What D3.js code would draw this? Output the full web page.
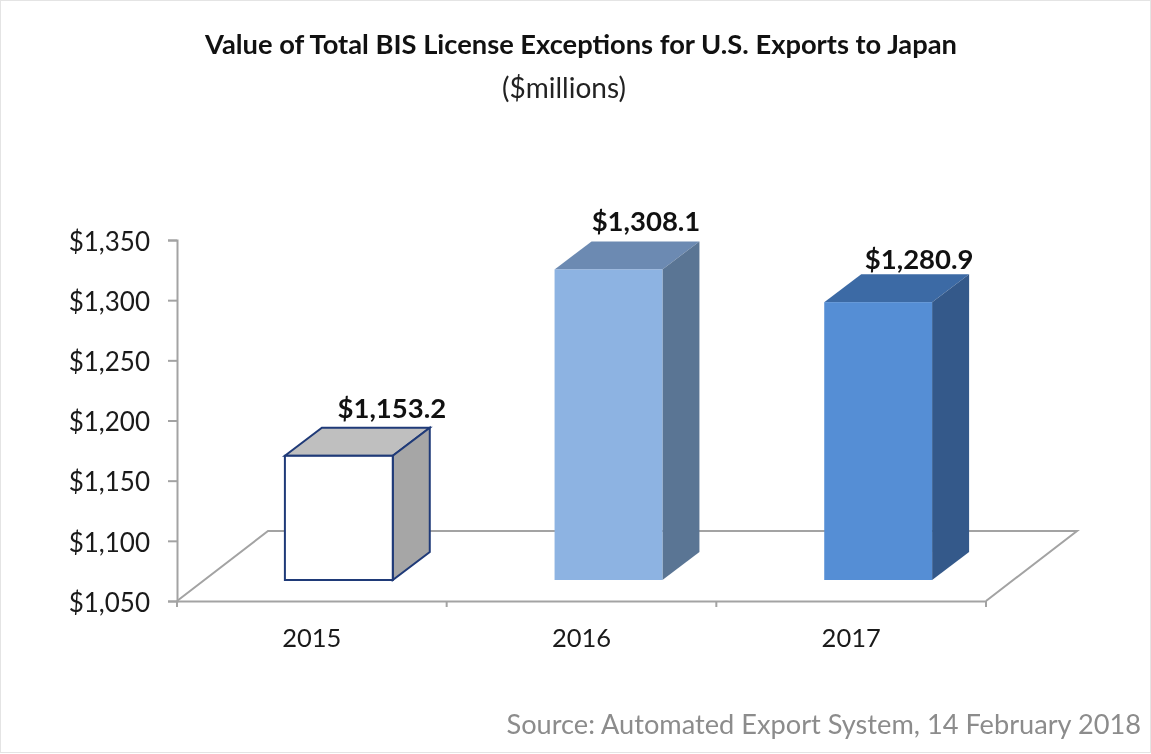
<!DOCTYPE html>
<html>
<head>
<meta charset="utf-8">
<script src="https://cdn.jsdelivr.net/npm/d3@7"></script>
<style>
  html, body { margin: 0; padding: 0; background: #fff; }
  svg { display: block; font-family: "Lato", "Open Sans", sans-serif; filter: blur(0.4px); }
  .axis path, .axis line { stroke: #a3a3a3; stroke-width: 2px; }
  .axis text { fill: #1a1a1a; font-family: "Lato", sans-serif; }
  .axis--y text { font-size: 26px; }
  .axis--x text { font-size: 25.5px; }
</style>
</head>
<body>
<svg id="chart" width="1151" height="754"></svg>
<script>
const years = ['2015', '2016', '2017'];
const values = [1153.2, 1308.1, 1280.9];
const valueLabels = ['$1,153.2', '$1,308.1', '$1,280.9'];
const yTicks = [1050, 1100, 1150, 1200, 1250, 1300, 1350];

const frontColors = ['#ffffff', '#8db3e2', '#558ed5'];
const topColors = ['#bfbfbf', '#6c8ab2', '#3c6aa5'];
const sideColors = ['#a6a6a6', '#5a7594', '#34598a'];
const strokeColors = ['#1f3a78', 'none', 'none'];
const labelNudgeX = [53, 37.5, 41];
const labelNudgeY = [0, 0, 5];

const WIDTH = 1151;
const HEIGHT = 754;
const MARGIN = { top: 240, bottom: 153, left: 177, right: 165 };
const FLOOR_DEPTH = { x: 91, y: 70 };
const BAR_DEPTH = { x: 37, y: 28 };
const BAR_LIFT = { x: 27, y: 21 };

const $svg = d3.select('#chart');

const scaleX = d3.scaleBand()
  .domain(years)
  .range([MARGIN.left, WIDTH - MARGIN.right]);

const scaleY = d3.scaleLinear()
  .domain([1050, 1350])
  .range([HEIGHT - MARGIN.bottom, MARGIN.top]);

// picture frame
$svg.append('rect')
  .attr('x', 0.5)
  .attr('y', 0.5)
  .attr('width', WIDTH - 1)
  .attr('height', HEIGHT - 2)
  .attr('fill', '#fff')
  .attr('stroke', '#e4e4e4');

// title
$svg.append('text')
  .text('Value of Total BIS License Exceptions for U.S. Exports to Japan')
  .attr('x', 581)
  .attr('y', 54)
  .attr('text-anchor', 'middle')
  .style('font-weight', 700)
  .style('font-size', '27.3px')
  .style('fill', '#111');

$svg.append('text')
  .text('($millions)')
  .attr('x', 564)
  .attr('y', 98)
  .attr('text-anchor', 'middle')
  .style('font-size', '28px')
  .style('fill', '#222');

// floor of the 3d plot, only back and side edges
const y0 = scaleY(1050);
const xLeft = scaleX.range()[0];
const xRight = scaleX.range()[1];

$svg.append('path')
  .attr('d', d3.line()([
    [xLeft, y0],
    [xLeft + FLOOR_DEPTH.x, y0 - FLOOR_DEPTH.y],
    [xRight + FLOOR_DEPTH.x, y0 - FLOOR_DEPTH.y],
    [xRight, y0]
  ]))
  .attr('fill', 'none')
  .attr('stroke', '#a3a3a3')
  .attr('stroke-width', 2);

// axes
const axisY = d3.axisLeft(scaleY)
  .tickValues(yTicks)
  .tickSize(9)
  .tickPadding(18)
  .tickFormat(d => '$' + d3.format(',')(d));

const $axisY = $svg.append('g')
  .attr('class', 'axis axis--y')
  .attr('transform', `translate(${MARGIN.left},0)`)
  .call(axisY);

$axisY.selectAll('text').attr('y', 2);

const axisX = d3.axisBottom(scaleX)
  .tickSize(0)
  .tickPadding(28);

const $axisX = $svg.append('g')
  .attr('class', 'axis axis--x')
  .attr('transform', `translate(0,${y0})`)
  .call(axisX);

// category ticks sit on the band edges
$axisX.selectAll('line.edge')
  .data(years.concat('end'))
  .join('line')
  .attr('class', 'edge')
  .attr('x1', (d, i) => xLeft + i * scaleX.step())
  .attr('x2', (d, i) => xLeft + i * scaleX.step())
  .attr('y1', 0)
  .attr('y2', 6);

// bars
const barWidth = scaleX.bandwidth() * 0.4;
const barX = d => scaleX(d.year) + (scaleX.bandwidth() - barWidth) / 2 + BAR_LIFT.x;
const barTop = d => scaleY(d.value) - BAR_LIFT.y;
const barBase = y0 - BAR_LIFT.y;

const data = years.map((year, i) => ({ year, value: values[i], i }));

const $bar = $svg.selectAll('.bar')
  .data(data)
  .join('g')
  .attr('class', 'bar');

$bar.append('path')
  .attr('d', d => d3.line()([
    [barX(d), barTop(d)],
    [barX(d) + BAR_DEPTH.x, barTop(d) - BAR_DEPTH.y],
    [barX(d) + barWidth + BAR_DEPTH.x, barTop(d) - BAR_DEPTH.y],
    [barX(d) + barWidth, barTop(d)]
  ]) + 'Z')
  .attr('fill', d => topColors[d.i])
  .attr('stroke', d => strokeColors[d.i])
  .attr('stroke-width', 2);

$bar.append('path')
  .attr('d', d => d3.line()([
    [barX(d) + barWidth, barTop(d)],
    [barX(d) + barWidth + BAR_DEPTH.x, barTop(d) - BAR_DEPTH.y],
    [barX(d) + barWidth + BAR_DEPTH.x, barBase - BAR_DEPTH.y],
    [barX(d) + barWidth, barBase]
  ]) + 'Z')
  .attr('fill', d => sideColors[d.i])
  .attr('stroke', d => strokeColors[d.i])
  .attr('stroke-width', 2);

$bar.append('rect')
  .attr('x', d => barX(d))
  .attr('y', d => barTop(d))
  .attr('width', barWidth)
  .attr('height', d => barBase - barTop(d))
  .attr('fill', d => frontColors[d.i])
  .attr('stroke', d => strokeColors[d.i])
  .attr('stroke-width', 2);

$bar.append('text')
  .text(d => valueLabels[d.i])
  .attr('x', d => barX(d) + barWidth / 2 + labelNudgeX[d.i])
  .attr('y', d => barTop(d) - BAR_DEPTH.y - 10 + labelNudgeY[d.i])
  .attr('text-anchor', 'middle')
  .style('font-weight', 700)
  .style('font-size', '27.5px')
  .style('fill', '#111');

// source
$svg.append('text')
  .text('Source: Automated Export System, 14 February 2018')
  .attr('x', 1141)
  .attr('y', 734)
  .attr('text-anchor', 'end')
  .style('font-size', '27.2px')
  .style('fill', '#8c8c8c');
</script>
</body>
</html>
